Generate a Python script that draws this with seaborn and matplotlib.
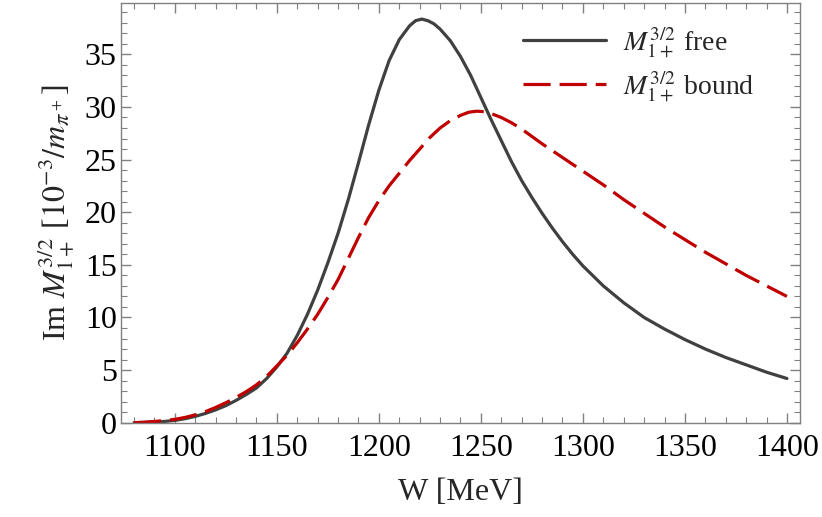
import numpy as np
import pandas as pd
import matplotlib
matplotlib.use("Agg")
import matplotlib.pyplot as plt
import seaborn as sns
from matplotlib.ticker import MultipleLocator

# ---- data ----
w_free = [1080, 1085, 1090, 1095, 1100, 1105, 1110, 1115, 1120, 1125, 1130, 1135,
          1140, 1145, 1150, 1155, 1160, 1165, 1170, 1175, 1180, 1185, 1190, 1195,
          1200, 1205, 1210, 1215, 1218, 1221, 1224, 1227, 1230, 1235, 1240, 1245,
          1250, 1255, 1260, 1265, 1270, 1275, 1280, 1285, 1290, 1295, 1300, 1310,
          1320, 1330, 1340, 1350, 1360, 1370, 1380, 1390, 1400]
m_free = [0.0, 0.02, 0.06, 0.12, 0.22, 0.38, 0.6, 0.88, 1.22, 1.62, 2.12, 2.68,
          3.3, 4.2, 5.3, 6.6, 8.3, 10.3, 12.6, 15.2, 18.0, 21.2, 24.7, 28.3,
          31.6, 34.4, 36.4, 37.7, 38.2, 38.35, 38.2, 37.9, 37.4, 36.3, 34.8, 33.0,
          30.9, 28.8, 26.8, 24.8, 23.0, 21.4, 19.9, 18.5, 17.2, 16.0, 14.9, 13.0,
          11.4, 10.0, 8.9, 7.9, 7.0, 6.2, 5.5, 4.8, 4.2]

w_bound = [1080, 1085, 1090, 1095, 1100, 1105, 1110, 1115, 1120, 1125, 1130, 1135,
           1140, 1145, 1150, 1155, 1160, 1165, 1170, 1175, 1180, 1185, 1190, 1195,
           1200, 1205, 1210, 1215, 1220, 1225, 1230, 1235, 1240, 1244, 1248, 1252,
           1256, 1260, 1265, 1270, 1275, 1280, 1290, 1300, 1310, 1320, 1330, 1340,
           1350, 1360, 1370, 1380, 1390, 1400]
m_bound = [0.0, 0.05, 0.12, 0.2, 0.32, 0.5, 0.75, 1.05, 1.45, 1.9, 2.4, 2.95,
           3.6, 4.4, 5.4, 6.4, 7.6, 8.9, 10.3, 11.9, 13.6, 15.6, 17.6, 19.5,
           21.1, 22.5, 23.7, 24.9, 26.0, 27.1, 28.0, 28.7, 29.2, 29.5, 29.6, 29.55,
           29.3, 29.0, 28.5, 27.9, 27.2, 26.5, 25.2, 23.9, 22.6, 21.2, 19.9, 18.6,
           17.4, 16.2, 15.1, 14.0, 13.0, 12.0]

label_free = r"$M^{3/2}_{1+}$ free"
label_bound = r"$M^{3/2}_{1+}$ bound"
xlabel = "W [MeV]"
ylabel = r"Im $M^{3/2}_{1+}$ [$10^{-3}/m_{\pi^+}$]"

df_free = pd.DataFrame({"W": w_free, "M": m_free})
df_bound = pd.DataFrame({"W": w_bound, "M": m_bound})

sns.set_theme(style="ticks")
plt.rcParams["font.family"] = ["Liberation Serif", "DejaVu Serif"]
plt.rcParams["mathtext.fontset"] = "stix"

fig = plt.figure(figsize=(8.22, 5.17), dpi=100)
ax = fig.add_axes([0.1472, 0.1824, 0.9732 - 0.1472, 0.9936 - 0.1824])

grey = "#404040"
red = "#c00000"
lw = 2.3

sns.lineplot(data=df_free, x="W", y="M", ax=ax, color=grey, linewidth=lw,
             label=label_free)
sns.lineplot(data=df_bound, x="W", y="M", ax=ax, color=red, linewidth=lw,
             linestyle=(0, (8.5, 2.8)), label=label_bound)

ax.set_xlim(1073.6, 1406.4)
ax.set_ylim(0, 39.85)
ax.xaxis.set_major_locator(MultipleLocator(50))
ax.xaxis.set_minor_locator(MultipleLocator(10))
ax.yaxis.set_major_locator(MultipleLocator(5))
ax.yaxis.set_minor_locator(MultipleLocator(1))

frame_c = "#808080"
for s in ax.spines.values():
    s.set_color(frame_c)
    s.set_linewidth(1.0)
ax.tick_params(which="both", direction="in", top=True, right=True,
               color=frame_c, labelcolor="black", labelsize=23)
ax.tick_params(which="major", length=7, width=1.0)
ax.tick_params(which="minor", length=4, width=0.8)
ax.tick_params(axis="x", which="major", pad=8)
ax.tick_params(axis="y", which="major", pad=3)

ax.set_xlabel(xlabel, fontsize=23, labelpad=11)
ax.set_ylabel(ylabel, fontsize=23, labelpad=6)

leg = ax.legend(loc="upper left", frameon=False, fontsize=20,
                handlelength=3.0, handletextpad=0.6, labelspacing=0.38,
                borderaxespad=0, bbox_to_anchor=(0.575, 0.975))

fig.savefig("out.png", dpi=100)
